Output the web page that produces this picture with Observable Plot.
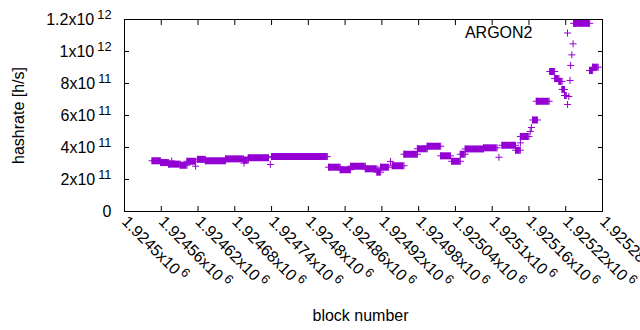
<!DOCTYPE html>
<html>
<head>
<meta charset="utf-8">
<script src="https://cdn.jsdelivr.net/npm/d3@7"></script>
<script src="https://cdn.jsdelivr.net/npm/@observablehq/plot@0.6"></script>
<style>
  html, body { margin: 0; padding: 0; background: #fff; }
  #chart svg { display: block; overflow: hidden; }
</style>
</head>
<body>
<div id="chart"></div>
<script>
// ---- data ----
// runs of consecutive blocks with the same hashrate
const segStart = [1924545, 1924559, 1924572, 1924591, 1924602, 1924619, 1924632, 1924665, 1924694, 1924702,
                  1924740, 1924833, 1924852, 1924869, 1924893, 1924912, 1924918, 1924937, 1924956, 1924978,
                  1924994, 1925016, 1925034, 1925048, 1925056, 1925086, 1925116, 1925138, 1925146, 1925166,
                  1925172, 1925194, 1925202, 1925209, 1925214, 1925218, 1925233, 1925259, 1925264];
const segEnd   = [1924559, 1924572, 1924591, 1924602, 1924616, 1924632, 1924665, 1924694, 1924702, 1924735,
                  1924831, 1924852, 1924869, 1924893, 1924912, 1924918, 1924931, 1924956, 1924978, 1924994,
                  1925016, 1925032, 1925048, 1925056, 1925086, 1925108, 1925138, 1925146, 1925160, 1925174,
                  1925193, 1925202, 1925209, 1925214, 1925218, 1925221, 1925259, 1925264, 1925273];
const segValue = [3.17e11, 3.06e11, 2.96e11, 2.89e11, 3.14e11, 3.26e11, 3.17e11, 3.29e11, 3.22e11, 3.36e11,
                  3.43e11, 2.77e11, 2.61e11, 2.83e11, 2.67e11, 2.46e11, 2.77e11, 2.86e11, 3.58e11, 3.92e11,
                  4.08e11, 3.48e11, 3.14e11, 3.58e11, 3.91e11, 3.98e11, 4.14e11, 3.83e11, 4.69e11, 5.72e11,
                  6.89e11, 8.75e11, 8.31e11, 8.13e11, 7.63e11, 7.25e11, 1.176e12, 8.81e11, 9.02e11];
// isolated blocks
const ptBlock = [1924577, 1924616, 1924695, 1924738, 1924934, 1925111, 1925146, 1925162, 1925164,
                 1925223, 1925225, 1925227, 1925228, 1925230, 1925232];
const ptValue = [3.16e11, 2.83e11, 3.02e11, 2.94e11, 3.13e11, 3.39e11, 4.29e11, 5.0e11, 5.25e11,
                 6.69e11, 7.19e11, 8.19e11, 9.13e11, 9.79e11, 1.048e12];

const xTicks = [1924500, 1924560, 1924620, 1924680, 1924740, 1924800, 1924860,
                1924920, 1924980, 1925040, 1925100, 1925160, 1925220, 1925280];
const xLabels = ["1.9245x10^6", "1.92456x10^6", "1.92462x10^6", "1.92468x10^6", "1.92474x10^6",
                 "1.9248x10^6", "1.92486x10^6", "1.92492x10^6", "1.92498x10^6", "1.92504x10^6",
                 "1.9251x10^6", "1.92516x10^6", "1.92522x10^6", "1.92528x10^6"];
const yTicks = [0, 2e11, 4e11, 6e11, 8e11, 1e12, 1.2e12];
const yLabels = ["0", "2x10^11", "4x10^11", "6x10^11", "8x10^11", "1x10^12", "1.2x10^12"];
const seriesName = "ARGON2";
const xTitle = "block number";
const yTitle = "hashrate [h/s]";

// ---- build tables ----
const segments = segStart.map((s, i) => ({s, e: segEnd[i], v: segValue[i]}));
const ends = segments.flatMap(d => [{b: d.s, v: d.v}, {b: d.e, v: d.v}]);
const points = ptBlock.map((b, i) => ({b, v: ptValue[i]}));
const allPoints = ends.concat(points);

const color = "#9400d3";
const font = "Liberation Sans, Arial, sans-serif";

const chart = Plot.plot({
  width: 640,
  height: 330,
  marginLeft: 124,
  marginRight: 38,
  marginTop: 19,
  marginBottom: 119,
  style: {fontFamily: font, fontSize: "16px", color: "black", background: "white"},
  x: {domain: [1924500, 1925280], label: null},
  y: {domain: [0, 1.2e12], label: null},
  marks: [
    Plot.ruleY(segments, {y: "v", x1: "s", x2: "e", stroke: color, strokeWidth: 7}),
    Plot.dot(allPoints, {x: "b", y: "v", symbol: "plus", r: 2.4, stroke: color, strokeWidth: 1}),
    Plot.frame({stroke: "black", strokeWidth: 1}),
    Plot.axisX(xTicks, {anchor: "bottom", tickSize: 5, dy: -5, tickFormat: () => "", label: null}),
    Plot.axisX(xTicks, {anchor: "top", tickSize: 5, dy: 5, tickFormat: () => "", label: null}),
    Plot.axisY(yTicks, {anchor: "left", tickSize: 5, dx: 5, tickFormat: () => "", label: null}),
    Plot.axisY(yTicks, {anchor: "right", tickSize: 5, dx: -5, tickFormat: () => "", label: null}),
    Plot.text(yTicks, {y: d => d, text: (d, i) => yLabels[i], frameAnchor: "left", dx: -13,
      textAnchor: "end", lineAnchor: "middle", fontSize: 16, fill: "black"}),
    Plot.text(xTicks, {x: d => d, text: (d, i) => xLabels[i], frameAnchor: "bottom", dx: 0, dy: 7.5,
      rotate: 45, textAnchor: "start", lineAnchor: "middle", fontSize: 16, fill: "black"}),
    Plot.text([yTitle], {frameAnchor: "left", dx: -106, rotate: -90, textAnchor: "middle",
      lineAnchor: "middle", fontSize: 16, fill: "black"}),
    Plot.text([xTitle], {frameAnchor: "bottom", dx: -3, dy: 104, textAnchor: "middle",
      lineAnchor: "middle", fontSize: 16, fill: "black"}),
    // key
    Plot.text([seriesName], {frameAnchor: "top-right", dx: -70, dy: 13, textAnchor: "end",
      lineAnchor: "middle", fontSize: 16, fill: "black"}),
    Plot.dot([seriesName], {frameAnchor: "top-right", dx: -35, dy: 13.5, symbol: "plus", r: 2.4,
      stroke: color, strokeWidth: 1})
  ]
});

// superscript exponents (gnuplot-style "x10^n")
const ns = "http://www.w3.org/2000/svg";
chart.querySelectorAll("text").forEach(t => {
  const s = t.textContent;
  if (!s.includes("^")) return;
  const parts = s.split("^");
  while (t.firstChild) t.removeChild(t.firstChild);
  const m = document.createElementNS(ns, "tspan");
  m.textContent = parts[0];
  t.appendChild(m);
  const e = document.createElementNS(ns, "tspan");
  e.setAttribute("dx", "3");
  e.setAttribute("dy", "-6");
  e.setAttribute("font-size", "12.8");
  e.textContent = parts[1];
  t.appendChild(e);
});

document.getElementById("chart").appendChild(chart);
</script>
</body>
</html>
